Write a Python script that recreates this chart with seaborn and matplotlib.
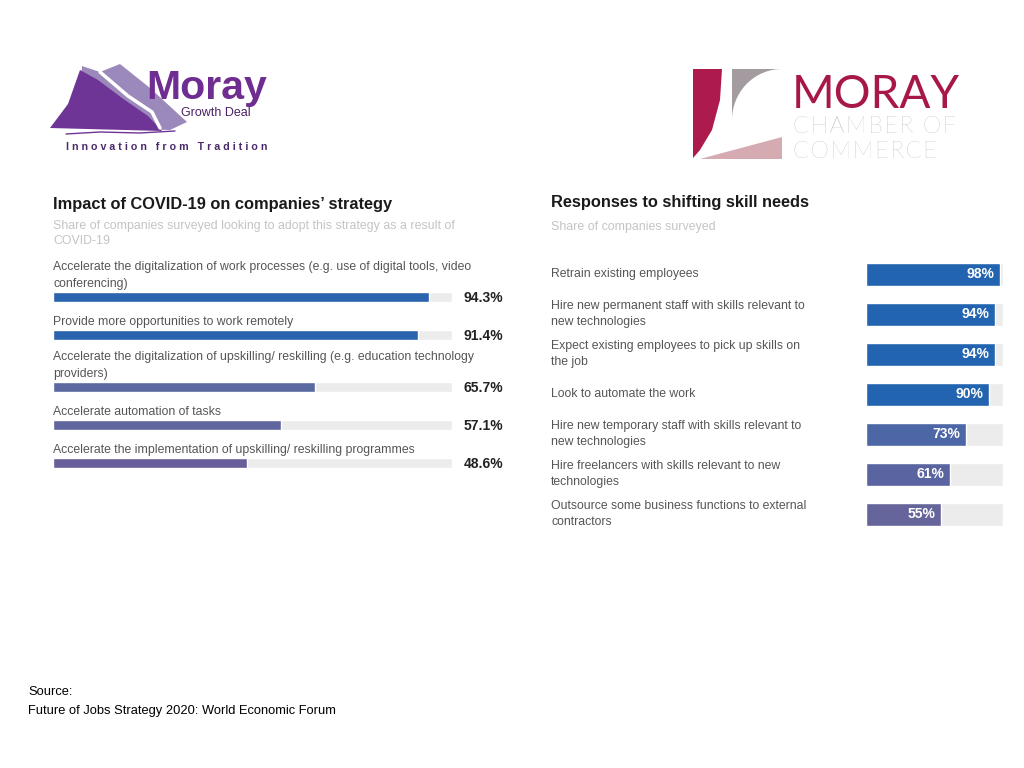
import numpy as np
import pandas as pd
import matplotlib
matplotlib.use('Agg')
import matplotlib.pyplot as plt
import seaborn as sns
from matplotlib.patches import Polygon

# left chart: impact of COVID-19 on companies' strategy
covid_labels = [
    'Accelerate the digitalization of work processes (e.g. use of digital tools, video\nconferencing)',
    'Provide more opportunities to work remotely',
    'Accelerate the digitalization of upskilling/ reskilling (e.g. education technology\nproviders)',
    'Accelerate automation of tasks',
    'Accelerate the implementation of upskilling/ reskilling programmes',
]
covid_values = [94.3, 91.4, 65.7, 57.1, 48.6]
covid_colors = ['#2a63ae', '#2a63ae', '#5a69a0', '#5f659d', '#685f9a']

# right chart: responses to shifting skill needs
skill_labels = [
    'Retrain existing employees',
    'Hire new permanent staff with skills relevant to\nnew technologies',
    'Expect existing employees to pick up skills on\nthe job',
    'Look to automate the work',
    'Hire new temporary staff with skills relevant to\nnew technologies',
    'Hire freelancers with skills relevant to new\ntechnologies',
    'Outsource some business functions to external\ncontractors',
]
skill_values = [98, 94, 94, 90, 73, 61, 55]
skill_colors = ['#2364b0', '#2364b0', '#2364b0', '#2364b0', '#4c66a6', '#5964a0', '#65659b']

sns.set_theme(style='white')
plt.rcParams['font.family'] = ['Liberation Sans', 'DejaVu Sans']

W, H = 1024, 768
fig = plt.figure(figsize=(W / 100, H / 100), dpi=100)
fig.patch.set_facecolor('white')

# overlay axes in pixel coordinates for titles, logos and notes
bg = fig.add_axes([0, 0, 1, 1])
bg.set_xlim(0, W)
bg.set_ylim(H, 0)
bg.axis('off')


def chart_axes(x0, x1, y0, y1):
    ax = fig.add_axes([x0 / W, 1 - y1 / H, (x1 - x0) / W, (y1 - y0) / H])
    return ax


def draw_bars(ax, ys, labels, values, colors, thickness, y0, y1):
    df = pd.DataFrame({'y': ys, 'label': labels, 'value': values, 'full': 100.0})
    w = thickness / np.min(np.diff(ys))
    sns.barplot(data=df, x='full', y='y', orient='h', native_scale=True,
                color='#ececec', width=w, saturation=1, errorbar=None, ax=ax)
    sns.barplot(data=df, x='value', y='y', hue='label', orient='h', native_scale=True,
                palette=dict(zip(labels, colors)), width=w, saturation=1,
                errorbar=None, legend=False, ax=ax)
    ax.set_xlim(0, 100)
    ax.set_ylim(y1, y0)
    ax.axis('off')
    return df


LABEL_FS = 8.8
LABEL_C = '#555555'

# ---- left chart ----
n_lines = [lab.count('\n') + 1 for lab in covid_labels]
covid_y = [297.0]
for n in n_lines[1:]:
    covid_y.append(covid_y[-1] + 38 + 14 * (n - 1))

axl = chart_axes(53, 452, 180, 490)
draw_bars(axl, covid_y, covid_labels, covid_values, covid_colors, 10, 180, 490)
for lab, v, y in zip(covid_labels, covid_values, covid_y):
    axl.text(0, y - 7, lab, ha='left', va='bottom', fontsize=LABEL_FS, color=LABEL_C,
             linespacing=1.6)
    axl.text((503 - 53) / 399, y + 1, f'{v:.1f}%', transform=axl.get_yaxis_transform(),
             ha='right', va='center', fontsize=10, fontweight='bold', color='#222222')

bg.text(53, 204, 'Impact of COVID-19 on companies\u2019 strategy', ha='left', va='center',
        fontsize=11.8, fontweight='bold', color='#1a1a1a')
bg.text(53, 220, 'Share of companies surveyed looking to adopt this strategy as a result of\nCOVID-19',
        ha='left', va='top', fontsize=8.9, color='#c4c4c4', linespacing=1.3)

# ---- right chart ----
skill_y = [274.0 + 40 * i for i in range(len(skill_values))]
axr = chart_axes(866, 1003, 180, 540)
draw_bars(axr, skill_y, skill_labels, skill_values, skill_colors, 23, 180, 540)
for lab, v, y in zip(skill_labels, skill_values, skill_y):
    axr.annotate(f'{v}%', (v, y), xytext=(-4, 0), textcoords='offset points',
                 ha='right', va='center', fontsize=10, fontweight='bold', color='white')
    bg.text(551, y, lab, ha='left', va='center', fontsize=LABEL_FS, color=LABEL_C,
            linespacing=1.55)

bg.text(551, 203, 'Responses to shifting skill needs', ha='left', va='center',
        fontsize=11.8, fontweight='bold', color='#1a1a1a')
bg.text(551, 227, 'Share of companies surveyed', ha='left', va='center',
        fontsize=8.9, color='#c4c4c4')

# ---- Moray Growth Deal logo ----
bg.add_patch(Polygon([(78, 128), (82, 66), (100, 72), (120, 64), (150, 88), (187, 122), (170, 130)],
                     closed=True, color='#9c89bc', lw=0))
bg.add_patch(Polygon([(50, 128), (68, 104), (80, 70), (98, 80), (122, 98), (148, 116), (162, 131)],
                     closed=True, color='#6e3596', lw=0))
bg.plot([100, 128, 152, 160], [72, 96, 112, 128], color='white', lw=2.5)
bg.plot([66, 100, 140, 175], [134, 132, 133, 131], color='#6e3596', lw=1)
bg.text(146, 99, 'Moray', ha='left', va='baseline', fontsize=29.5, fontweight='bold',
        color='#6f2c91')
bg.text(181, 113, 'Growth Deal', ha='left', va='center', fontsize=9, color='#4b2266')
bg.text(66, 147, ' '.join('Innovation from Tradition'), ha='left', va='center', fontsize=7.7,
        color='#4b2a6b', fontweight='bold')

# ---- Moray Chamber of Commerce logo ----
bg.add_patch(Polygon([(693, 69), (722, 69), (720, 100), (712, 130), (700, 150), (693, 158)],
                     closed=True, color='#ad1a4d', lw=0))
arc_t = np.linspace(0, np.pi / 2, 30)
gray_pts = [(732, 69), (782, 69), (782, 120)] + \
    [(782 - 50 * np.cos(t), 69 + 51 * (1 - np.sin(t))) for t in arc_t[::-1]]
bg.add_patch(Polygon(gray_pts, closed=True, color='#a39b9f', lw=0))
bg.add_patch(Polygon([(700, 159), (782, 159), (782, 137)], closed=True, color='#d6aab1', lw=0))
bg.text(792, 108, 'MORAY', ha='left', va='baseline', fontsize=33, color='#a8174a',
        family=['Lato', 'DejaVu Sans'])
hair = '\u200a'
bg.text(793, 133, hair.join('CHAMBER OF'), ha='left', va='baseline', fontsize=16.8,
        color='#a6a6a6', family=['Lato', 'DejaVu Sans'], fontweight='light')
bg.text(793, 158, hair.join('COMMERCE'), ha='left', va='baseline', fontsize=16.8,
        color='#a6a6a6', family=['Lato', 'DejaVu Sans'], fontweight='light')

# ---- source ----
bg.text(28, 692, 'Source:', ha='left', va='center', fontsize=9.25, color='black')
bg.text(28, 711, 'Future of Jobs Strategy 2020: World Economic Forum', ha='left', va='center',
        fontsize=9.25, color='black')

fig.savefig('out.png', dpi=100, facecolor='white')
